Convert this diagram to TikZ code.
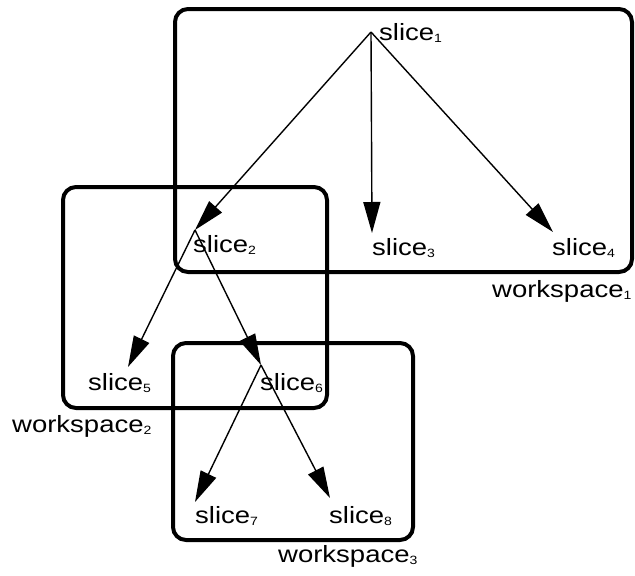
\documentclass[tikz,border=0pt]{standalone}
\usepackage{fontspec}
\setmainfont{Liberation Sans}[FakeStretch=1.17]
\usetikzlibrary{arrows.meta}
\newcommand\subs[1]{\raisebox{-2.5pt}{\fontsize{12}{12}\selectfont #1}}
\begin{document}
\begin{tikzpicture}[x=1pt,y=-1pt,
  wsbox/.style={draw=black,line width=4pt,rounded corners=13pt},
  lbl/.style={anchor=base west,inner sep=0pt,font=\fontsize{23.5}{26}\selectfont},
  edge/.style={line width=1.4pt,-{Triangle[length=31pt,width=17pt]}},
  plain/.style={line width=1.4pt}]
\useasboundingbox (0,0) rectangle (635,576);
% workspaces
\draw[wsbox] (175,9) rectangle (632,272);
\draw[wsbox] (63,187) rectangle (327,408);
\draw[wsbox] (173,343) rectangle (413,540);
% points
\coordinate (p1) at (371,32);
\coordinate (p2) at (195,230);
\coordinate (p3) at (372,233);
\coordinate (p4) at (553,232);
\coordinate (p5) at (128,367);
\coordinate (p6) at (261,365);
\coordinate (p7) at (195,502);
\coordinate (p8) at (330,498);
% labels
\node[lbl] (s1) at (379,40) {slice\subs{1}};
\node[lbl] (s2) at (193,252) {slice\subs{2}};
\node[lbl] (s3) at (372,255) {slice\subs{3}};
\node[lbl] (s4) at (552,255) {slice\subs{4}};
\node[lbl] (s5) at (88,390) {slice\subs{5}};
\node[lbl] (s6) at (260,390) {slice\subs{6}};
\node[lbl] (s7) at (195,523) {slice\subs{7}};
\node[lbl] (s8) at (329,523) {slice\subs{8}};
\node[lbl] (w1) at (492,297) {workspace\subs{1}};
\node[lbl] (w2) at (12,432) {workspace\subs{2}};
\node[lbl] (w3) at (278,562) {workspace\subs{3}};
% edges
\draw[edge] (p1) -- (p2);
\draw[edge] (p1) -- (p3);
\draw[edge] (p1) -- (p4);
\draw[edge] (p2) -- (p5);
\draw[edge] (p2) -- (p6);
\draw[edge] (p6) -- (p7);
\draw[edge] (p6) -- (p8);
\end{tikzpicture}
\end{document}
